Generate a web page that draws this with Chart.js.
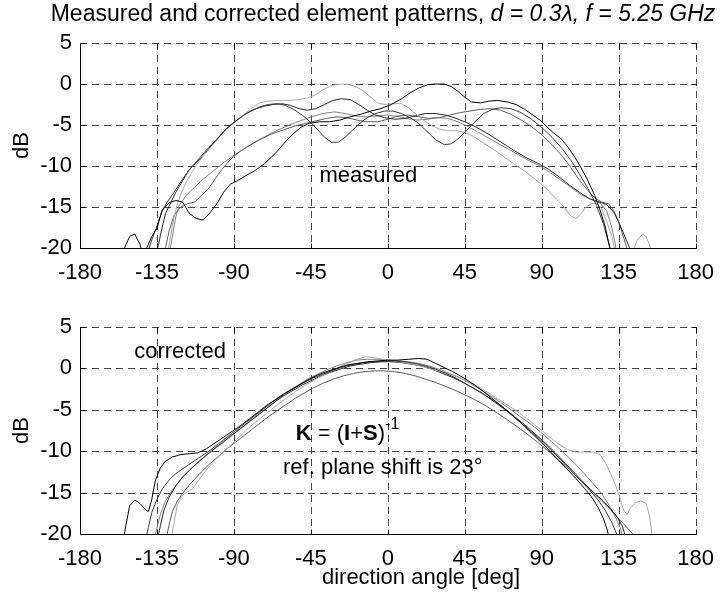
<!DOCTYPE html>
<html>
<head>
<meta charset="utf-8">
<script src="https://cdn.jsdelivr.net/npm/chart.js@4.4.0/dist/chart.umd.min.js"></script>
<style>
    html, body { margin: 0; padding: 0; background: #fff; }
    #wrap { position: relative; width: 726px; height: 596px; overflow: hidden; }
    canvas { position: absolute; left: 0; }
    #measuredChart { top: 0; }
    #correctedChart { top: 290px; }
</style>
</head>
<body>
<div id="wrap">
    <canvas id="measuredChart" width="726" height="285"></canvas>
    <canvas id="correctedChart" width="726" height="306"></canvas>
</div>
<script>
// ========== data: [angle deg, level dB] ==========

const ANGLE_TICKS = [-180, -135, -90, -45, 0, 45, 90, 135, 180];
const DB_TICKS = [5, 0, -5, -10, -15, -20];

// measured element patterns (top plot)
const measured1 = [[-157,-22],[-154,-20],[-151,-18.6],[-148,-18.3],[-145,-19.5],[-143,-21],[-141,-20],[-138,-18.6],[-135,-17.6],[-132,-15.4],[-128,-14.5],[-124,-14.2],[-120,-14.4],[-116,-15.8],[-112,-16.4],[-108,-16.6],[-104,-15.7],[-100,-14.6],[-96,-13.2],[-92,-12.2],[-88,-11.8],[-84,-11.3],[-78,-10.6],[-72,-9.7],[-66,-8.5],[-61,-7.3],[-56,-6.2],[-51,-5.3],[-46,-4.8],[-40,-4.6],[-34,-4.6],[-28,-4.4],[-22,-4.0],[-16,-3.7],[-10,-3.3],[-4,-3.0],[2,-2.5],[8,-1.8],[13,-1.1],[18,-0.5],[23,-0.1],[28,0],[33,0],[37,-0.3],[41,-0.9],[45,-1.6],[49,-2.2],[54,-2.3],[59,-2.1],[64,-2.0],[70,-2.2],[75,-2.5],[80,-3.1],[85,-3.8],[89,-4.4],[93,-5.2],[97,-6.0],[101,-6.6],[105,-7.6],[109,-8.8],[113,-10.2],[117,-11.8],[121,-13.6],[124,-15.3],[127,-17.3],[129,-19.2],[131,-21]];
const measured2 = [[-141,-21],[-138,-19],[-135,-17.3],[-132,-15.5],[-129,-14.4],[-125,-13.2],[-120,-11.6],[-115,-10.2],[-110,-9.0],[-105,-7.8],[-100,-6.8],[-95,-5.6],[-90,-4.7],[-85,-3.9],[-80,-3.3],[-75,-2.8],[-70,-2.5],[-65,-2.4],[-60,-2.6],[-55,-3.1],[-50,-3.8],[-45,-4.7],[-41,-5.6],[-37,-6.5],[-33,-7.1],[-29,-7.1],[-25,-6.5],[-21,-5.7],[-17,-4.9],[-12,-4.1],[-7,-3.6],[-2,-3.3],[3,-3.3],[8,-3.6],[13,-4.1],[18,-4.8],[23,-5.8],[28,-6.8],[33,-7.4],[37,-7.3],[41,-6.7],[46,-5.7],[51,-4.6],[56,-3.6],[61,-3.1],[66,-2.9],[72,-3.0],[78,-3.5],[84,-4.3],[90,-5.3],[96,-6.5],[102,-7.9],[108,-9.6],[113,-11.3],[118,-13.1],[122,-14.8],[126,-17.0],[129,-19.3],[131,-21]];
const measured3 = [[-129,-21],[-127,-18.5],[-125,-16.2],[-123,-14.6],[-121,-13.4],[-118,-12.0],[-115,-10.9],[-112,-9.9],[-108,-8.8],[-103,-7.6],[-98,-6.3],[-94,-5.4],[-90,-4.8],[-85,-3.9],[-80,-3.0],[-75,-2.3],[-70,-2.1],[-64,-2.0],[-58,-2.0],[-52,-1.9],[-47,-1.7],[-42,-1.3],[-38,-0.7],[-34,-0.3],[-30,-0.05],[-26,0],[-22,-0.1],[-18,-0.4],[-14,-0.9],[-10,-1.6],[-6,-2.3],[-2,-2.5],[3,-2.4],[8,-2.4],[12,-2.9],[16,-3.6],[20,-4.3],[25,-5.0],[30,-5.5],[35,-5.7],[40,-5.7],[45,-5.9],[50,-6.4],[56,-7.2],[62,-8.0],[68,-8.9],[74,-9.8],[80,-10.6],[86,-11.6],[92,-12.6],[98,-13.9],[103,-15.0],[107,-16.1],[110,-16.4],[113,-15.8],[116,-15.0],[119,-14.6],[122,-14.5],[125,-15.2],[128,-16.8],[131,-18.6],[133,-20.5],[138,-21],[143,-20.5],[146,-19.0],[149,-18.3],[151,-18.6],[153,-19.6],[155,-21]];
const measured4 = [[-136,-21],[-134,-19.5],[-132,-17.5],[-130,-15.8],[-127,-14.5],[-124,-13.2],[-120,-11.8],[-116,-10.4],[-112,-9.6],[-107,-8.5],[-102,-7.2],[-97,-6.0],[-92,-5.0],[-87,-4.2],[-82,-3.5],[-77,-3.0],[-72,-2.7],[-67,-2.5],[-62,-2.4],[-57,-2.6],[-52,-3.0],[-47,-3.2],[-42,-3.0],[-37,-2.5],[-32,-2.0],[-27,-1.8],[-22,-1.9],[-17,-2.5],[-12,-3.2],[-7,-3.8],[-2,-4.1],[4,-4.3],[10,-4.2],[16,-3.9],[22,-3.6],[28,-3.6],[34,-3.8],[40,-4.2],[46,-4.7],[52,-5.3],[58,-6.0],[64,-6.8],[70,-7.6],[76,-8.4],[82,-9.1],[88,-9.7],[94,-10.4],[100,-11.3],[106,-12.3],[112,-13.2],[118,-14.0],[124,-14.4],[128,-14.7],[132,-15.6],[135,-16.8],[138,-18.3],[141,-19.8],[143,-21]];
const measured5 = [[-131,-21],[-128,-18],[-125,-16],[-121,-15],[-117,-14.6],[-113,-14.4],[-109,-13.6],[-105,-12.8],[-101,-11.6],[-97,-10.4],[-92,-9.2],[-87,-8.3],[-81,-7.5],[-75,-6.8],[-68,-6.1],[-61,-5.6],[-54,-5.1],[-48,-4.8],[-42,-4.5],[-36,-4.2],[-30,-4.0],[-24,-4.1],[-18,-4.4],[-12,-4.6],[-6,-4.6],[0,-4.3],[6,-3.9],[12,-3.8],[18,-4.0],[24,-4.2],[30,-4.1],[36,-3.8],[42,-3.5],[48,-3.3],[54,-3.1],[60,-3.0],[66,-3.2],[72,-3.7],[78,-4.4],[84,-5.2],[90,-6.2],[96,-7.4],[102,-8.8],[107,-10.2],[112,-11.7],[117,-13.0],[121,-13.9],[125,-14.4],[129,-14.6],[132,-15.4],[135,-16.8],[138,-18.8],[140,-20.2],[141,-21]];
const measured6 = [[-128,-21],[-126,-18.6],[-124,-16.2],[-122,-14.8],[-118,-13.6],[-113,-12.6],[-108,-11.6],[-102,-10.6],[-96,-9.6],[-90,-8.7],[-84,-7.9],[-77,-7.0],[-70,-6.2],[-62,-5.4],[-54,-4.7],[-46,-4.1],[-38,-3.6],[-31,-3.4],[-25,-3.6],[-19,-3.9],[-13,-4.0],[-7,-3.9],[-1,-3.8],[5,-3.9],[11,-4.2],[17,-4.4],[23,-4.3],[29,-4.1],[35,-4.2],[41,-4.6],[47,-5.2],[53,-5.9],[59,-6.6],[65,-7.3],[71,-8.0],[77,-8.7],[83,-9.4],[89,-10.0],[95,-10.8],[101,-11.7],[107,-12.6],[113,-13.5],[119,-14.1],[124,-14.5],[128,-15.5],[131,-17.5],[133,-19.5],[134,-21]];

// corrected element patterns (bottom plot)
const corrected1 = [[-155,-21],[-153,-18.8],[-151,-16.6],[-148,-15.9],[-145,-16.3],[-142,-17.0],[-140,-17.3],[-138,-15.8],[-136,-13.6],[-133,-12.0],[-130,-11.2],[-126,-10.7],[-121,-10.4],[-116,-10.3],[-111,-10.2],[-106,-9.7],[-101,-9.0],[-96,-8.3],[-91,-7.6],[-86,-6.9],[-81,-6.1],[-76,-5.3],[-71,-4.5],[-66,-3.8],[-61,-3.1],[-56,-2.5],[-51,-1.9],[-46,-1.3],[-41,-0.8],[-36,-0.4],[-30,0],[-24,0.4],[-18,0.6],[-12,0.8],[-6,0.9],[0,1.0],[6,1.0],[12,1.1],[18,1.2],[23,1.1],[28,0.6],[33,0.1],[38,-0.4],[44,-1.1],[50,-1.9],[56,-2.8],[62,-3.8],[68,-4.8],[74,-5.9],[80,-7.0],[86,-8.2],[92,-9.4],[98,-10.7],[104,-12.0],[110,-13.3],[115,-14.5],[119,-15.5],[123,-16.8],[126,-18.1],[128,-19.3],[130,-21]];
const corrected2 = [[-142,-21],[-140,-19.2],[-138,-17.4],[-135,-15.8],[-132,-14.6],[-128,-13.5],[-124,-12.7],[-119,-12.0],[-114,-11.3],[-109,-10.6],[-104,-9.9],[-99,-9.1],[-94,-8.3],[-89,-7.5],[-84,-6.7],[-79,-5.9],[-74,-5.1],[-69,-4.3],[-64,-3.6],[-59,-2.9],[-54,-2.3],[-49,-1.7],[-44,-1.2],[-38,-0.7],[-32,-0.2],[-26,0.2],[-20,0.5],[-14,0.7],[-8,0.8],[-2,0.9],[4,0.9],[10,0.8],[16,0.6],[22,0.3],[28,-0.1],[34,-0.6],[40,-1.2],[46,-1.9],[52,-2.6],[58,-3.4],[64,-4.3],[70,-5.2],[76,-6.2],[82,-7.3],[88,-8.4],[94,-9.6],[100,-10.8],[106,-12.1],[112,-13.4],[118,-14.7],[123,-15.9],[127,-17.1],[131,-18.6],[134,-20.1],[135,-21]];
const corrected3 = [[-127,-21],[-125,-18.6],[-123,-16.4],[-120,-15.3],[-117,-14.9],[-114,-14.5],[-111,-13.6],[-107,-12.5],[-103,-11.5],[-98,-10.5],[-93,-9.5],[-88,-8.5],[-83,-7.5],[-78,-6.6],[-72,-5.6],[-66,-4.6],[-60,-3.7],[-54,-2.8],[-48,-2.0],[-42,-1.3],[-36,-0.6],[-30,0],[-24,0.6],[-18,1.1],[-13,1.4],[-8,1.3],[-3,1.1],[3,0.9],[9,0.7],[15,0.5],[21,0.2],[27,-0.2],[33,-0.5],[39,-0.9],[45,-1.4],[51,-2.0],[57,-2.7],[63,-3.5],[69,-4.3],[75,-5.1],[81,-6.0],[87,-7.0],[93,-8.0],[99,-9.0],[105,-9.8],[110,-10.1],[115,-10.1],[120,-10.1],[124,-10.4],[127,-11.3],[130,-12.6],[133,-14.0],[136,-15.8],[138,-17.2],[140,-17.6],[142,-16.8],[145,-16.2],[148,-16.0],[151,-16.3],[153,-17.8],[155,-21]];
const corrected4 = [[-135,-21],[-133,-19.0],[-131,-17.2],[-128,-15.6],[-124,-14.2],[-120,-13.1],[-115,-12.1],[-110,-11.2],[-105,-10.3],[-100,-9.5],[-95,-8.7],[-90,-7.9],[-85,-7.1],[-80,-6.3],[-75,-5.5],[-70,-4.7],[-65,-3.9],[-60,-3.2],[-55,-2.6],[-50,-2.0],[-45,-1.5],[-40,-1.0],[-34,-0.5],[-28,-0.1],[-22,0.3],[-16,0.5],[-10,0.7],[-4,0.8],[2,0.8],[8,0.7],[14,0.5],[20,0.3],[26,-0.1],[32,-0.6],[38,-1.1],[44,-1.7],[50,-2.4],[56,-3.1],[62,-3.9],[68,-4.8],[74,-5.8],[80,-6.8],[86,-7.9],[92,-9.0],[98,-10.2],[104,-11.5],[110,-12.8],[116,-14.1],[121,-15.1],[126,-16.0],[130,-16.9],[134,-17.9],[137,-19.0],[139,-20.3],[140,-21]];
const corrected5 = [[-130,-21],[-128,-19],[-126,-17.3],[-123,-16.0],[-119,-14.8],[-114,-13.6],[-109,-12.5],[-104,-11.5],[-99,-10.6],[-94,-9.7],[-89,-8.9],[-84,-8.1],[-79,-7.3],[-74,-6.5],[-69,-5.7],[-64,-5.0],[-59,-4.3],[-54,-3.6],[-49,-3.0],[-44,-2.4],[-38,-1.8],[-32,-1.3],[-26,-0.9],[-20,-0.6],[-14,-0.4],[-8,-0.3],[-2,-0.3],[4,-0.4],[10,-0.6],[16,-0.9],[22,-1.3],[28,-1.7],[34,-2.2],[40,-2.7],[46,-3.3],[52,-3.9],[58,-4.6],[64,-5.4],[70,-6.2],[76,-7.1],[82,-8.0],[88,-9.0],[94,-10.0],[100,-11.1],[106,-12.2],[112,-13.4],[118,-14.6],[123,-15.6],[128,-16.6],[133,-17.7],[138,-18.8],[142,-19.7],[145,-20.5],[147,-21]];
const corrected6 = [[-137,-21],[-135,-19.3],[-133,-17.6],[-130,-16.0],[-126,-14.7],[-121,-13.4],[-116,-12.3],[-111,-11.3],[-106,-10.4],[-101,-9.6],[-96,-8.8],[-91,-8.0],[-86,-7.2],[-81,-6.4],[-76,-5.6],[-71,-4.8],[-66,-4.0],[-61,-3.2],[-56,-2.5],[-51,-1.8],[-46,-1.2],[-41,-0.7],[-36,-0.2],[-30,0.3],[-24,0.7],[-18,1.0],[-12,1.1],[-6,1.1],[0,1.0],[6,0.9],[12,0.8],[18,0.6],[24,0.3],[30,-0.1],[36,-0.6],[42,-1.1],[48,-1.8],[54,-2.5],[60,-3.3],[66,-4.1],[72,-5.0],[78,-5.9],[84,-6.8],[90,-7.8],[96,-8.9],[102,-10.0],[108,-11.2],[114,-12.5],[120,-13.9],[125,-15.1],[129,-16.4],[133,-17.9],[136,-19.3],[138,-21]];

// one grey level per element, same order in both plots
const LINE_COLORS = ['#000000', '#3a3a3a', '#a8a8a8', '#262626', '#5c5c5c', '#808080'];

// ========== drawing ==========

const FONT = '"Liberation Sans", Arial, Helvetica, sans-serif';
const GRID_COLOR = '#444444';

// dashed grid, solid left/bottom axis, inward tick marks on all sides
const axesFrame = {
    id: 'axesFrame',
    beforeDatasetsDraw(chart) {
        const { ctx, chartArea: a, scales: { x, y } } = chart;
        ctx.save();
        ctx.strokeStyle = GRID_COLOR;
        ctx.lineWidth = 1;
        ctx.setLineDash([7, 5]);
        ctx.beginPath();
        ANGLE_TICKS.forEach(v => {
            const px = Math.round(x.getPixelForValue(v)) + 0.5;
            ctx.moveTo(px, a.top);
            ctx.lineTo(px, a.bottom);
        });
        DB_TICKS.forEach(v => {
            const py = Math.round(y.getPixelForValue(v)) + 0.5;
            ctx.moveTo(a.left, py);
            ctx.lineTo(a.right, py);
        });
        ctx.stroke();
        ctx.restore();
    },
    afterDatasetsDraw(chart) {
        const { ctx, chartArea: a, scales: { x, y } } = chart;
        const L = Math.round(a.left) + 0.5, B = Math.round(a.bottom) + 0.5;
        const T = Math.round(a.top) + 0.5, R = Math.round(a.right) + 0.5;
        const len = 5;
        ctx.save();
        ctx.strokeStyle = '#000';
        ctx.lineWidth = 1;
        ctx.beginPath();
        ctx.moveTo(L, T); ctx.lineTo(L, B); ctx.lineTo(R, B);
        ANGLE_TICKS.forEach(v => {
            const px = Math.round(x.getPixelForValue(v)) + 0.5;
            ctx.moveTo(px, B); ctx.lineTo(px, B - len);
            ctx.moveTo(px, T); ctx.lineTo(px, T + len);
        });
        DB_TICKS.forEach(v => {
            const py = Math.round(y.getPixelForValue(v)) + 0.5;
            ctx.moveTo(L, py); ctx.lineTo(L + len, py);
            ctx.moveTo(R, py); ctx.lineTo(R - len, py);
        });
        ctx.stroke();
        ctx.restore();
    }
};

// write text pieces one after another, each with its own font and lift
function drawRuns(ctx, x, y, runs) {
    runs.forEach(([text, font, lift]) => {
        ctx.font = font;
        ctx.fillText(text, x, y - (lift || 0));
        x += ctx.measureText(text).width;
    });
    return x;
}

function runsWidth(ctx, runs) {
    return runs.reduce((w, [text, font]) => { ctx.font = font; return w + ctx.measureText(text).width; }, 0);
}

function drawYLabel(chart) {
    const { ctx, chartArea: a } = chart;
    ctx.save();
    ctx.translate(21, (a.top + a.bottom) / 2);
    ctx.rotate(-Math.PI / 2);
    ctx.textAlign = 'center';
    ctx.textBaseline = 'alphabetic';
    ctx.font = '22px ' + FONT;
    ctx.fillText('dB', 0, 7);
    ctx.restore();
}

function measuredNotes(chart) {
    const { ctx, scales: { x, y } } = chart;
    ctx.save();
    ctx.fillStyle = '#000';
    ctx.textBaseline = 'alphabetic';
    const title = [
        ['Measured and corrected element patterns, ', '23px ' + FONT],
        ['d = 0.3\u03bb, f = 5.25 GHz', 'italic 23px ' + FONT]
    ];
    drawRuns(ctx, 383 - runsWidth(ctx, title) / 2, 21, title);
    drawRuns(ctx, x.getPixelForValue(-40), y.getPixelForValue(-11.9), [['measured', '22px ' + FONT]]);
    ctx.restore();
    drawYLabel(chart);
}

function correctedNotes(chart) {
    const { ctx, scales: { x, y } } = chart;
    ctx.save();
    ctx.fillStyle = '#000';
    ctx.textBaseline = 'alphabetic';
    drawRuns(ctx, x.getPixelForValue(-148.3), y.getPixelForValue(1.25), [['corrected', '22px ' + FONT]]);
    const norm = '22px ' + FONT, bold = 'bold 22px ' + FONT;
    drawRuns(ctx, x.getPixelForValue(-53.8), y.getPixelForValue(-8.65), [
        ['K', bold], [' = (', norm], ['I', bold], ['+', norm], ['S', bold], [')', norm],
        ['-1', '16px ' + FONT, 11]
    ]);
    drawRuns(ctx, x.getPixelForValue(-61.3), y.getPixelForValue(-12.75), [['ref. plane shift is 23\u00b0', norm]]);
    ctx.textAlign = 'center';
    ctx.font = norm;
    ctx.fillText('direction angle [deg]', 421, chart.height - 12);
    ctx.restore();
    drawYLabel(chart);
}

function makeChart(canvasId, series, padTop, xAxisHeight, notes) {
    return new Chart(document.getElementById(canvasId), {
        type: 'line',
        data: {
            datasets: series.map((s, i) => ({
                data: s.map(([deg, db]) => ({ x: deg, y: db })),
                borderColor: LINE_COLORS[i],
                borderWidth: 1,
                pointRadius: 0,
                tension: 0,
                fill: false
            }))
        },
        options: {
            responsive: false,
            animation: false,
            layout: { padding: { top: padTop, right: 21, left: 0, bottom: 0 } },
            plugins: { legend: { display: false }, tooltip: { enabled: false } },
            scales: {
                x: {
                    type: 'linear',
                    min: -180,
                    max: 180,
                    afterBuildTicks: s => { s.ticks = ANGLE_TICKS.map(v => ({ value: v })); },
                    afterFit: s => { s.height = xAxisHeight; },
                    ticks: { color: '#000', font: { family: FONT, size: 22 }, padding: 12, maxRotation: 0, autoSkip: false },
                    grid: { display: false, drawTicks: false },
                    border: { display: false }
                },
                y: {
                    min: -20,
                    max: 5,
                    afterBuildTicks: s => { s.ticks = DB_TICKS.map(v => ({ value: v })); },
                    afterFit: s => { s.width = 80; },
                    ticks: { color: '#000', font: { family: FONT, size: 22 }, padding: 8 },
                    grid: { display: false, drawTicks: false },
                    border: { display: false }
                }
            }
        },
        plugins: [axesFrame, { id: 'notes', afterDraw: notes }]
    });
}

makeChart('measuredChart',
    [measured1, measured2, measured3, measured4, measured5, measured6], 43, 37, measuredNotes);
makeChart('correctedChart',
    [corrected1, corrected2, corrected3, corrected4, corrected5, corrected6], 37, 62, correctedNotes);
</script>
</body>
</html>
